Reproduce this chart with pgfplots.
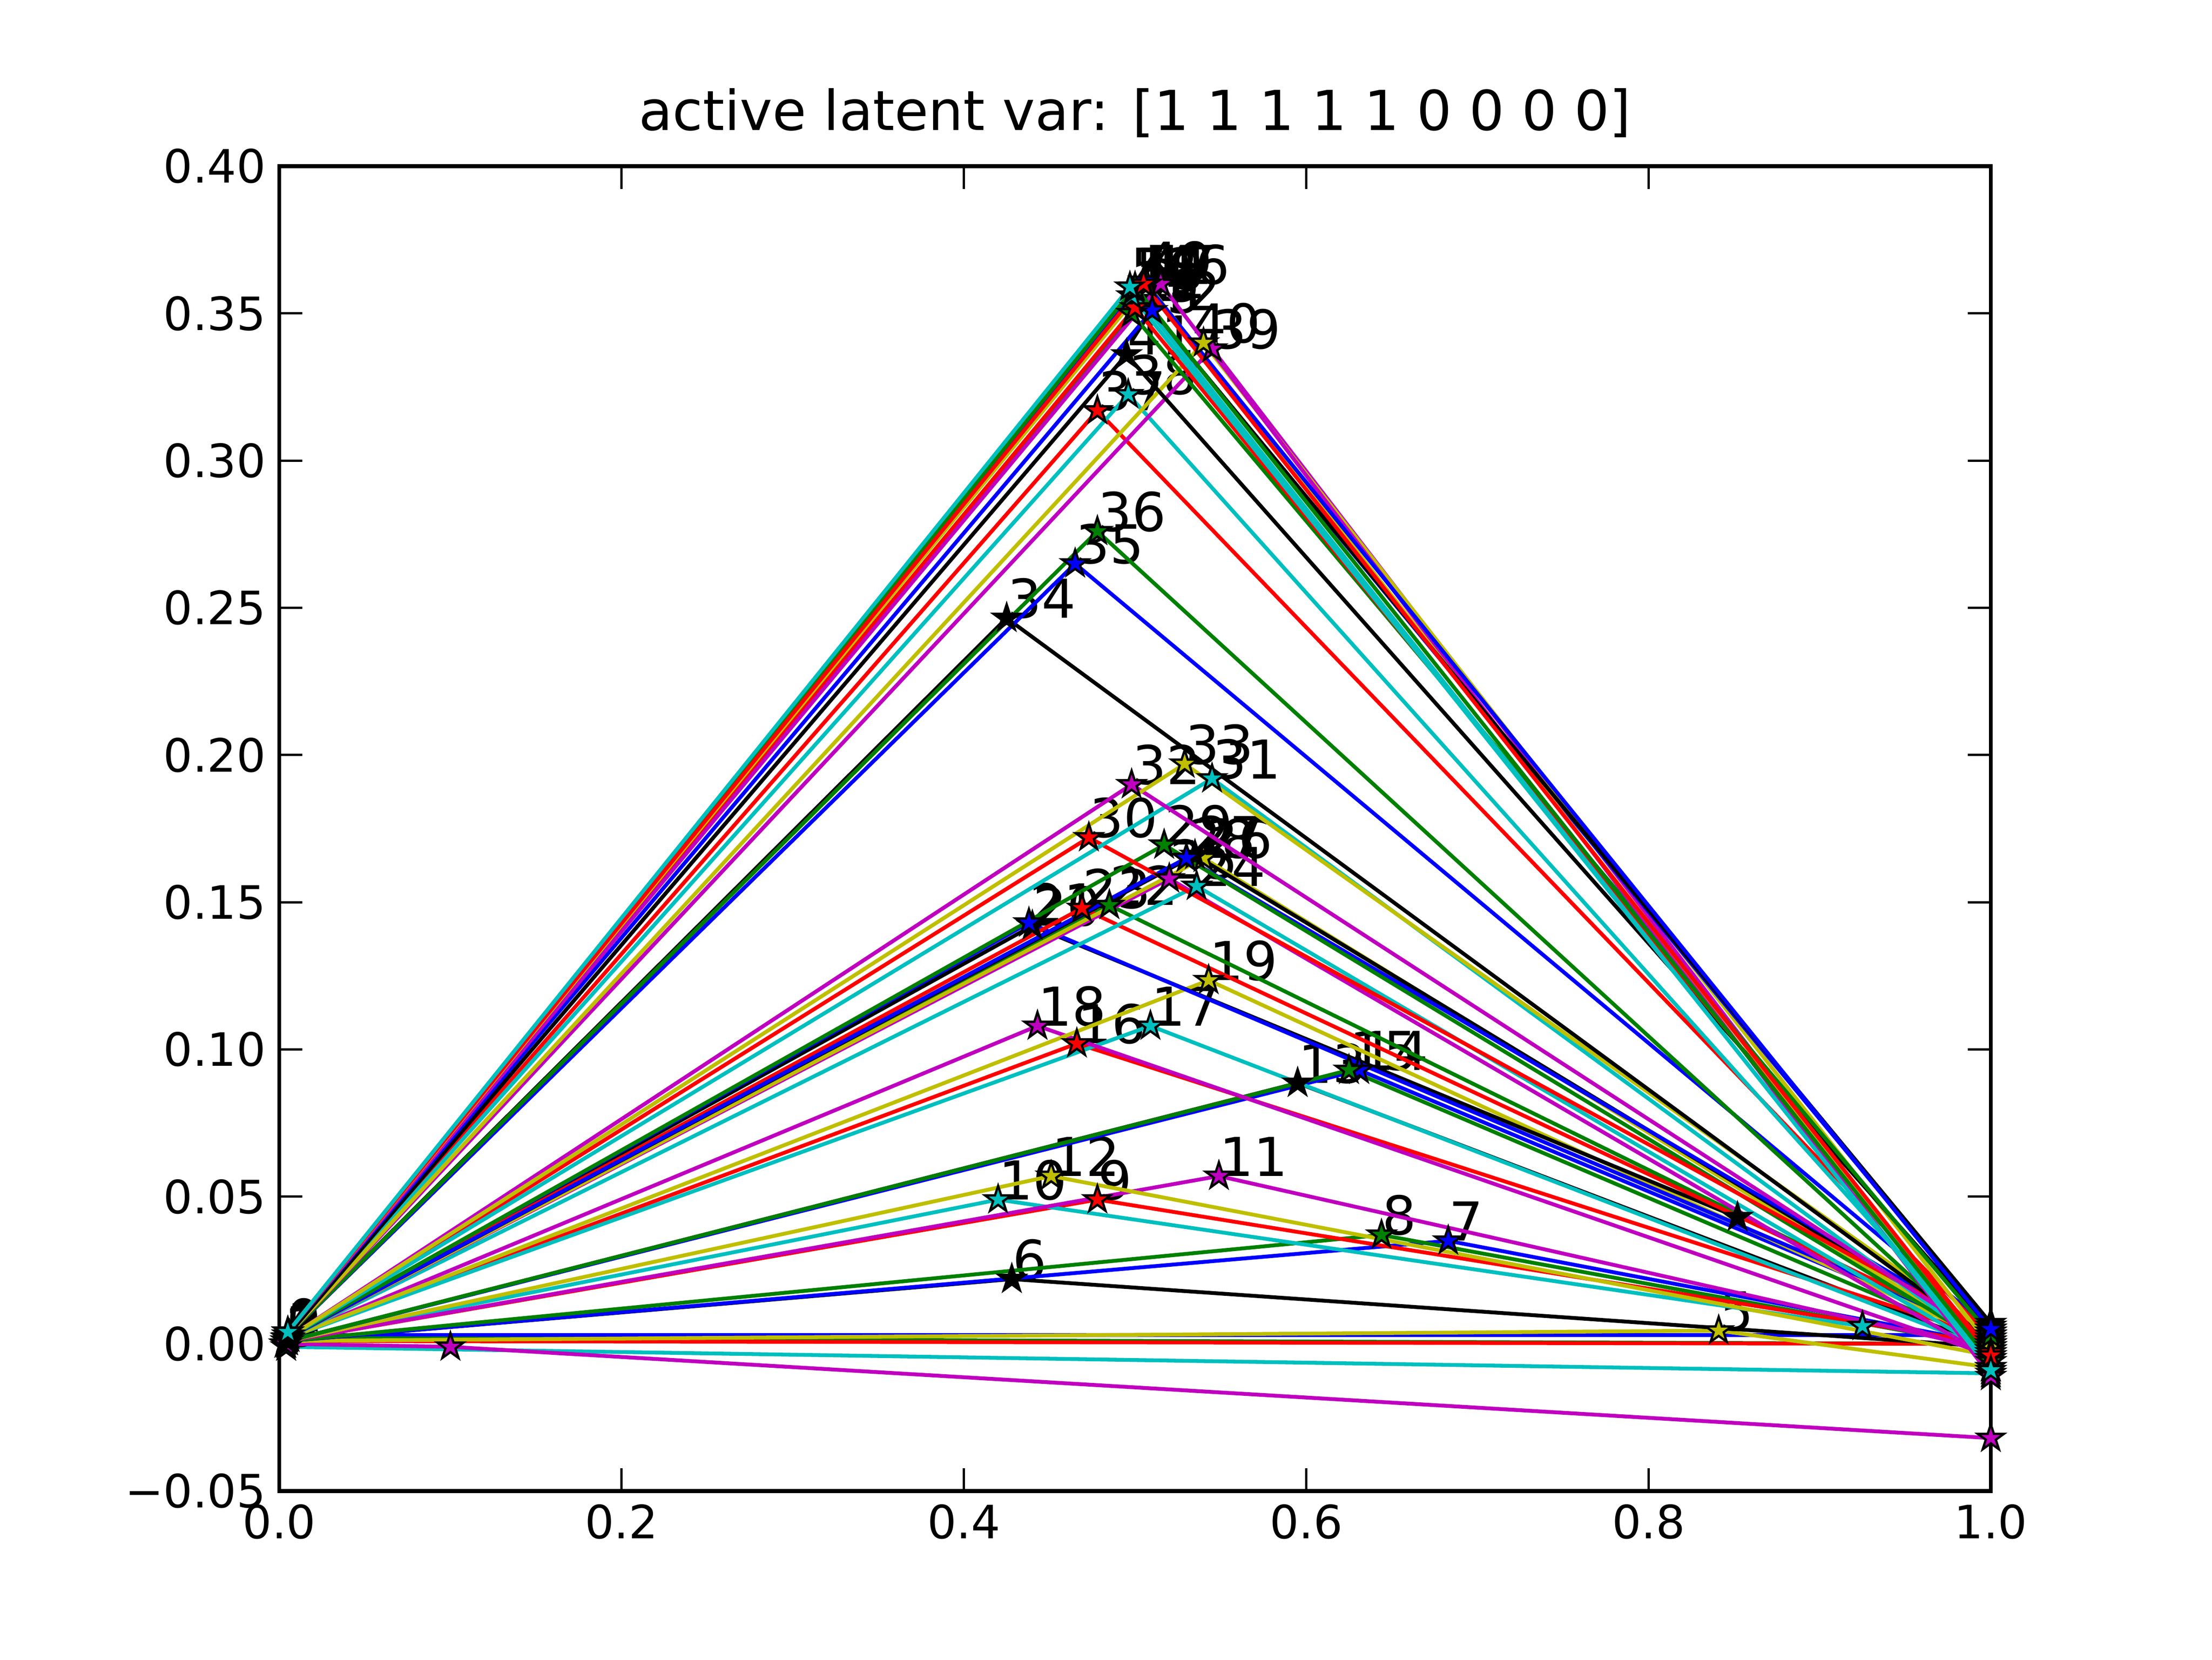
\documentclass[border=0pt]{standalone}
\usepackage{pgfplots}
\pgfplotsset{compat=1.18}
\usepackage{fontspec}
\setmainfont{DejaVu Sans}
\definecolor{mb}{rgb}{0,0,1}
\definecolor{mg}{rgb}{0,0.5,0}
\definecolor{mr}{rgb}{1,0,0}
\definecolor{mc}{rgb}{0,0.75,0.75}
\definecolor{mm}{rgb}{0.75,0,0.75}
\definecolor{my}{rgb}{0.75,0.75,0}
\definecolor{mk}{rgb}{0,0,0}
\pgfdeclareplotmark{fstar}{%
\pgfpathmoveto{\pgfpointpolar{90}{\pgfplotmarksize}}%
\pgfpathlineto{\pgfpointpolar{126}{0.382\pgfplotmarksize}}%
\pgfpathlineto{\pgfpointpolar{162}{\pgfplotmarksize}}%
\pgfpathlineto{\pgfpointpolar{198}{0.382\pgfplotmarksize}}%
\pgfpathlineto{\pgfpointpolar{234}{\pgfplotmarksize}}%
\pgfpathlineto{\pgfpointpolar{270}{0.382\pgfplotmarksize}}%
\pgfpathlineto{\pgfpointpolar{306}{\pgfplotmarksize}}%
\pgfpathlineto{\pgfpointpolar{342}{0.382\pgfplotmarksize}}%
\pgfpathlineto{\pgfpointpolar{18}{\pgfplotmarksize}}%
\pgfpathlineto{\pgfpointpolar{54}{0.382\pgfplotmarksize}}%
\pgfpathclose\pgfusepathqfillstroke}
% color, start, mid, end, label position, label
\newcommand{\ser}[6]{%
\addplot[#1, line width=1pt, mark=fstar, mark size=3.6pt, mark options={fill=#1,draw=black,line width=0.6pt}] coordinates {#2 #3 #4};
\node[anchor=base west, inner sep=0pt, font=\fontsize{14}{16}\selectfont] at (axis cs:#5) {#6};}
\begin{document}
\begin{tikzpicture}
\path (0,0) rectangle (8in,6in);
\begin{axis}[
  at={(1.01in,0.609in)}, anchor=south west, scale only axis,
  width=6.19in, height=4.79in,
  xmin=0, xmax=1, ymin=-0.05, ymax=0.4,
  xtick={0,0.2,0.4,0.6,0.8,1.0}, ytick={-0.05,0,0.05,0.1,0.15,0.2,0.25,0.3,0.35,0.4},
  xticklabels={0.0,0.2,0.4,0.6,0.8,1.0},
  yticklabels={−0.05,0.00,0.05,0.10,0.15,0.20,0.25,0.30,0.35,0.40},
  ticklabel style={font=\fontsize{12}{14}\selectfont},
  tick align=inside, xtick pos=both, ytick pos=both,
  major tick length=6pt, axis line style={line width=1pt}, every tick/.style={black, line width=0.6pt},
  scaled ticks=false, clip=false,
  title={active latent var: [1 1 1 1 1 0 0 0 0]}, title style={font=\fontsize{14.4}{16}\selectfont, yshift=-2pt},
]
\ser{mb}{(0.004,0.002)}{(0.006,0.003)}{(1,0.003)}{0.004,0.002}{0}
\ser{mg}{(0.004,0.001)}{(0.006,0.002)}{(1,0.0)}{0.004,0.001}{1}
\ser{mr}{(0.004,0.0)}{(0.005,0.001)}{(1,0.0)}{0.004,0.0}{2}
\ser{mc}{(0.003,0.0)}{(0.004,-0.001)}{(1,-0.01)}{0.003,-0.001}{3}
\ser{mm}{(0.004,0.0)}{(0.1,-0.001)}{(1,-0.032)}{0.004,0.001}{4}
\ser{my}{(0.005,0.001)}{(0.841,0.0045)}{(1,-0.008)}{0.841,0.0045}{5}
\ser{mk}{(0.005,0.001)}{(0.428,0.022)}{(1,-0.001)}{0.428,0.022}{6}
\ser{mb}{(0.005,0.001)}{(0.683,0.035)}{(1,0.0)}{0.683,0.035}{7}
\ser{mg}{(0.005,0.001)}{(0.644,0.037)}{(1,-0.001)}{0.644,0.037}{8}
\ser{mr}{(0.005,0.001)}{(0.478,0.049)}{(1,0.0)}{0.478,0.049}{9}
\ser{mc}{(0.005,0.001)}{(0.420,0.049)}{(0.925,0.006)}{0.420,0.049}{10}
\ser{mm}{(0.005,0.001)}{(0.549,0.057)}{(1,-0.002)}{0.549,0.057}{11}
\ser{my}{(0.005,0.001)}{(0.451,0.057)}{(1,-0.004)}{0.451,0.057}{12}
\ser{mk}{(0.005,0.001)}{(0.595,0.0886)}{(1,-0.001)}{0.595,0.0886}{13}
\ser{mb}{(0.005,0.001)}{(0.631,0.093)}{(1,0.003)}{0.631,0.093}{14}
\ser{mg}{(0.005,0.001)}{(0.625,0.093)}{(1,0.0)}{0.625,0.093}{15}
\ser{mr}{(0.005,0.002)}{(0.466,0.102)}{(1,0.002)}{0.466,0.102}{16}
\ser{mc}{(0.005,0.002)}{(0.509,0.108)}{(1,-0.002)}{0.509,0.108}{17}
\ser{mm}{(0.005,0.002)}{(0.443,0.108)}{(1,-0.004)}{0.443,0.108}{18}
\ser{my}{(0.005,0.002)}{(0.543,0.1235)}{(1,0.001)}{0.543,0.1235}{19}
\ser{mk}{(0.005,0.002)}{(0.44,0.142)}{(0.852,0.043)}{0.44,0.142}{20}
\ser{mb}{(0.005,0.002)}{(0.438,0.143)}{(1,0.004)}{0.438,0.143}{21}
\ser{mg}{(0.005,0.002)}{(0.485,0.149)}{(1,0.002)}{0.485,0.149}{22}
\ser{mr}{(0.005,0.002)}{(0.469,0.148)}{(1,0.003)}{0.469,0.148}{23}
\ser{mc}{(0.005,0.002)}{(0.536,0.1555)}{(1,-0.003)}{0.536,0.1555}{24}
\ser{mm}{(0.005,0.002)}{(0.52,0.158)}{(1,-0.005)}{0.52,0.158}{25}
\ser{my}{(0.005,0.002)}{(0.54,0.165)}{(1,0.0)}{0.54,0.165}{26}
\ser{mk}{(0.005,0.002)}{(0.535,0.166)}{(1,0.002)}{0.535,0.166}{27}
\ser{mb}{(0.005,0.002)}{(0.53,0.165)}{(1,0.004)}{0.53,0.165}{28}
\ser{mg}{(0.005,0.002)}{(0.517,0.1695)}{(1,-0.001)}{0.517,0.1695}{29}
\ser{mr}{(0.005,0.002)}{(0.473,0.172)}{(1,0.004)}{0.473,0.172}{30}
\ser{mc}{(0.005,0.002)}{(0.545,0.192)}{(1,-0.002)}{0.545,0.192}{31}
\ser{mm}{(0.005,0.002)}{(0.498,0.190)}{(1,0.001)}{0.498,0.190}{32}
\ser{my}{(0.005,0.002)}{(0.529,0.197)}{(1,0.003)}{0.529,0.197}{33}
\ser{mk}{(0.005,0.003)}{(0.425,0.2465)}{(1,0.001)}{0.425,0.2465}{34}
\ser{mb}{(0.005,0.003)}{(0.465,0.265)}{(1,0.005)}{0.465,0.265}{35}
\ser{mg}{(0.005,0.003)}{(0.478,0.276)}{(1,-0.002)}{0.478,0.276}{36}
\ser{mr}{(0.005,0.003)}{(0.478,0.317)}{(1,0.002)}{0.478,0.317}{37}
\ser{mc}{(0.005,0.003)}{(0.496,0.3225)}{(1,-0.004)}{0.496,0.3225}{38}
\ser{mm}{(0.005,0.003)}{(0.545,0.338)}{(1,-0.006)}{0.545,0.338}{39}
\ser{my}{(0.005,0.003)}{(0.54,0.340)}{(1,-0.001)}{0.533,0.340}{40}
\ser{mk}{(0.005,0.003)}{(0.495,0.336)}{(1,0.005)}{0.495,0.336}{41}
\ser{mb}{(0.005,0.004)}{(0.51,0.351)}{(1,0.006)}{0.51,0.351}{42}
\ser{mg}{(0.005,0.004)}{(0.498,0.350)}{(1,0.003)}{0.498,0.350}{43}
\ser{mr}{(0.005,0.004)}{(0.50,0.352)}{(1,-0.003)}{0.50,0.352}{44}
\ser{mc}{(0.005,0.004)}{(0.498,0.356)}{(1,-0.008)}{0.498,0.354}{45}
\ser{mm}{(0.005,0.004)}{(0.515,0.360)}{(1,-0.011)}{0.515,0.360}{46}
\ser{my}{(0.005,0.004)}{(0.507,0.360)}{(1,-0.005)}{0.507,0.360}{47}
\ser{mk}{(0.005,0.004)}{(0.50,0.358)}{(1,0.007)}{0.50,0.358}{48}
\ser{mb}{(0.005,0.004)}{(0.505,0.361)}{(1,0.005)}{0.505,0.361}{49}
\ser{mg}{(0.005,0.004)}{(0.50,0.359)}{(1,-0.006)}{0.50,0.359}{50}
\ser{mr}{(0.005,0.004)}{(0.505,0.360)}{(1,-0.004)}{0.505,0.360}{51}
\ser{mc}{(0.005,0.004)}{(0.497,0.359)}{(1,-0.009)}{0.497,0.359}{52}
\end{axis}
\end{tikzpicture}
\end{document}
